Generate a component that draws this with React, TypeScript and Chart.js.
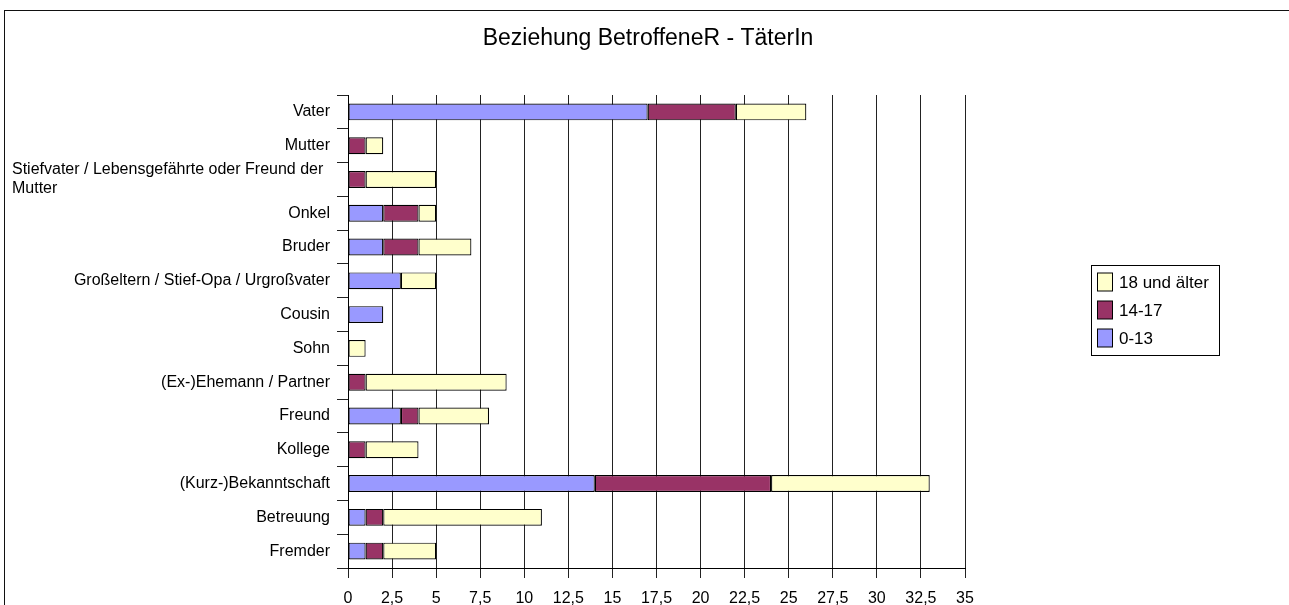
import React, { useEffect, useRef } from "react";
import { Chart, registerables } from "chart.js";

Chart.register(...registerables);

const title = "Beziehung BetroffeneR - TäterIn";

const categories: (string | string[])[] = [
  "Vater",
  "Mutter",
  ["Stiefvater / Lebensgefährte oder Freund der", "Mutter"],
  "Onkel",
  "Bruder",
  "Großeltern / Stief-Opa / Urgroßvater",
  "Cousin",
  "Sohn",
  "(Ex-)Ehemann / Partner",
  "Freund",
  "Kollege",
  "(Kurz-)Bekanntschaft",
  "Betreuung",
  "Fremder",
];

const seriesNames = ["0-13", "14-17", "18 und älter"];
const age0to13 = [17, 0, 0, 2, 2, 3, 2, 0, 0, 3, 0, 14, 1, 1];
const age14to17 = [5, 1, 1, 2, 2, 0, 0, 0, 1, 1, 1, 10, 1, 1];
const age18plus = [4, 1, 4, 1, 3, 2, 0, 1, 8, 4, 3, 9, 9, 3];
const seriesColors = ["#9999FF", "#993366", "#FFFFCC"];

const xMin = 0;
const xMax = 35;
const xStep = 2.5;

const FONT = "'Liberation Sans', Arial, Helvetica, sans-serif";

export default function App() {
  const ref = useRef<HTMLCanvasElement | null>(null);

  useEffect(() => {
    const canvas = ref.current;
    if (!canvas) return;

    const framePlugin = {
      id: "frameAndTitle",
      beforeDraw(chart: any) {
        const ctx = chart.ctx;
        ctx.save();
        ctx.fillStyle = "#ffffff";
        ctx.fillRect(0, 0, chart.width, chart.height);
        ctx.strokeStyle = "#111";
        ctx.lineWidth = 1;
        ctx.strokeRect(4.5, 10.5, 1400, 1000);
        ctx.fillStyle = "#000";
        ctx.font = `23px ${FONT}`;
        ctx.textAlign = "center";
        ctx.textBaseline = "alphabetic";
        ctx.fillText(title, 648, 45);
        ctx.restore();
      },
      afterDraw(chart: any) {
        const ctx = chart.ctx;
        const yScale = chart.scales.y;
        ctx.save();
        ctx.fillStyle = "#000";
        ctx.font = `16px ${FONT}`;
        ctx.textBaseline = "middle";
        categories.forEach((lab, i) => {
          const y = yScale.getPixelForTick(i);
          if (Array.isArray(lab)) {
            ctx.textAlign = "left";
            const lh = 19;
            const y0 = y - ((lab.length - 1) * lh) / 2;
            lab.forEach((line, k) => ctx.fillText(line, 12, y0 + k * lh));
          } else {
            ctx.textAlign = "right";
            ctx.fillText(lab, 330, y);
          }
        });

        // legend (reversed order like the reference)
        const bx = 1091.5, by = 265.5, bw = 128, bh = 90;
        ctx.fillStyle = "#fff";
        ctx.fillRect(bx, by, bw, bh);
        ctx.strokeStyle = "#000";
        ctx.lineWidth = 1;
        ctx.strokeRect(bx, by, bw, bh);
        const ds = chart.data.datasets;
        const order = [2, 1, 0];
        ctx.font = `17px ${FONT}`;
        ctx.textAlign = "left";
        ctx.textBaseline = "middle";
        order.forEach((di, k) => {
          const cy = 282 + k * 28;
          ctx.fillStyle = ds[di].backgroundColor;
          ctx.fillRect(1097.5, cy - 9, 15, 18);
          ctx.strokeStyle = "#000";
          ctx.strokeRect(1097.5, cy - 9, 15, 18);
          ctx.fillStyle = "#000";
          ctx.fillText(ds[di].label, 1119, cy + 1);
        });
        ctx.restore();
      },
    };

    const values = [age0to13, age14to17, age18plus];
    const chart = new Chart(canvas, {
      type: "bar",
      data: {
        labels: categories.map((c) => (Array.isArray(c) ? c.join(" ") : c)),
        datasets: seriesNames.map((name, i) => ({
          label: name,
          data: values[i],
          backgroundColor: seriesColors[i],
          borderColor: "#000",
          borderWidth: 1.2,
          borderSkipped: false,
          inflateAmount: 0,
          barPercentage: 0.5,
          categoryPercentage: 1,
        })),
      },
      options: {
        indexAxis: "y",
        animation: false,
        responsive: false,
        devicePixelRatio: 1,
        layout: { padding: { top: 95, right: 324, bottom: 0, left: 0 } },
        plugins: {
          legend: { display: false },
          title: { display: false },
          tooltip: { enabled: false },
        },
        scales: {
          x: {
            stacked: true,
            min: xMin,
            max: xMax,
            ticks: {
              stepSize: xStep,
              color: "#000",
              font: { family: FONT, size: 16 },
              padding: 11,
              maxRotation: 0,
              autoSkip: false,
              callback: (v: any) => String(v).replace(".", ","),
            },
            grid: {
              color: "#222",
              lineWidth: 1,
              drawTicks: true,
              tickLength: 10,
            },
            border: { display: true, color: "#000", width: 1 },
            afterFit: (scale: any) => {
              scale.height = 37;
            },
          },
          y: {
            stacked: true,
            ticks: { display: false },
            grid: {
              offset: true,
              drawOnChartArea: false,
              drawTicks: true,
              tickLength: 11,
              color: "#222",
            },
            border: { display: true, color: "#000", width: 1 },
            afterFit: (scale: any) => {
              scale.width = 348;
            },
          },
        },
      },
      plugins: [framePlugin],
    });

    return () => chart.destroy();
  }, []);

  return (
    <div style={{ position: "absolute", left: 0, top: 0, width: 1289, height: 605 }}>
      <canvas ref={ref} width={1289} height={605} style={{ display: "block" }} />
    </div>
  );
}
